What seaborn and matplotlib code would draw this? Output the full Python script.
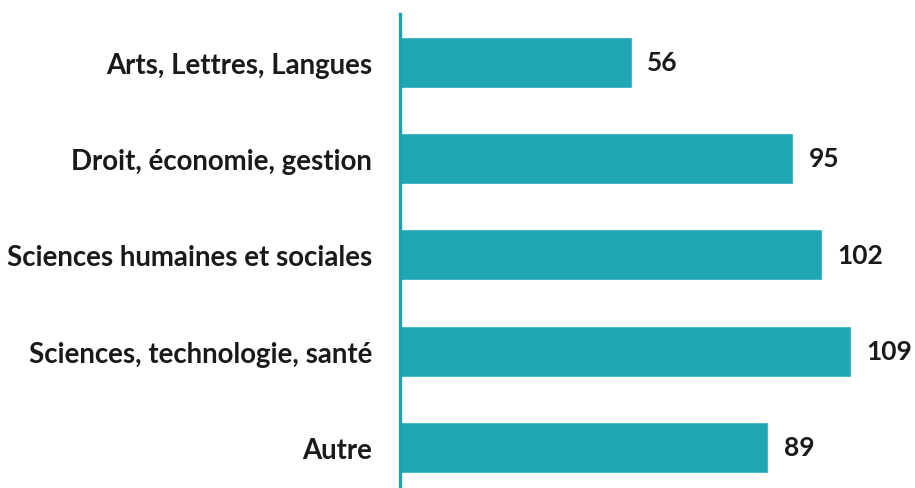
import numpy as np
import pandas as pd
import matplotlib.pyplot as plt
import seaborn as sns

domaines = ['Arts, Lettres, Langues', 'Droit, économie, gestion',
            'Sciences humaines et sociales', 'Sciences, technologie, santé',
            'Autre']
effectifs = [56, 95, 102, 109, 89]

df = pd.DataFrame({'domaine': domaines, 'effectif': effectifs})

sns.set_style('white')
plt.rcParams['font.family'] = ['Lato', 'DejaVu Sans']

fig = plt.figure(figsize=(9.15, 4.89), dpi=100)
ax = fig.add_axes([0.4372, 0, 0.5628, 0.9693])

teal = '#1fa7b4'
sns.barplot(data=df, x='effectif', y='domaine', color=teal, saturation=1,
            width=0.53, ax=ax)

ax.set_xlim(0, 124.4)
ax.set_ylim(4.422, -0.5)
ax.set_xlabel('')
ax.set_ylabel('')
ax.set_xticks([])

for s in ['top', 'right', 'bottom']:
    ax.spines[s].set_visible(False)
ax.spines['left'].set_color('#1ba3b1')
ax.spines['left'].set_linewidth(2.4)

ax.tick_params(axis='y', length=0, pad=20, labelsize=19.9)
for lab in ax.get_yticklabels():
    lab.set_fontweight('bold')
    lab.set_color('#1a1a1a')

ax.bar_label(ax.containers[0], padding=11, fontsize=19, fontweight='bold',
             color='#1a1a1a')

fig.savefig('out.png', dpi=100)
